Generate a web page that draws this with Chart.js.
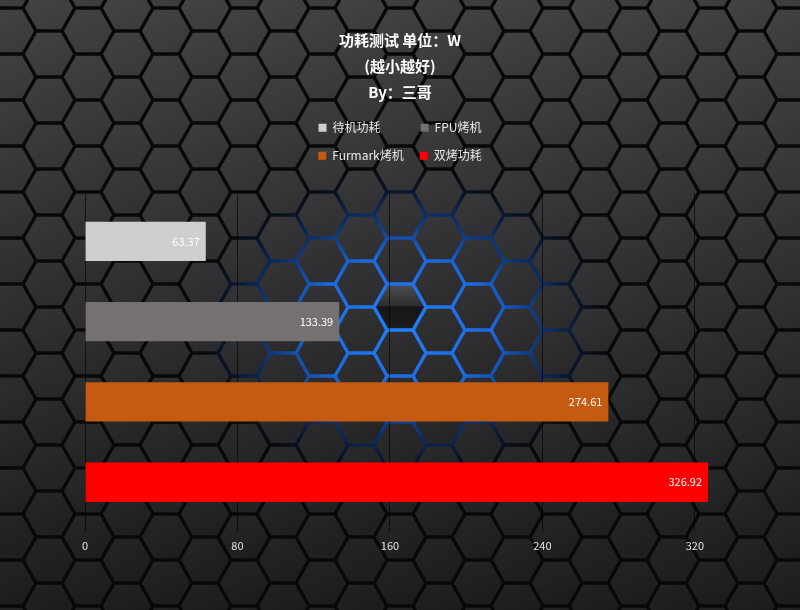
<!DOCTYPE html>
<html>
<head>
<meta charset="utf-8">
<title>功耗测试</title>
<script src="https://cdn.jsdelivr.net/npm/chart.js@4.4.1/dist/chart.umd.min.js"></script>
<style>
  html, body { margin: 0; padding: 0; background: #1e1e1f; }
  #wrap { width: 800px; height: 610px; }
</style>
</head>
<body>
<div id="wrap"><canvas id="myChart" width="800" height="610"></canvas></div>
<script>
// data
var categories = [''];
var seriesNames = ['待机功耗', 'FPU烤机', 'Furmark烤机', '双烤功耗'];
var seriesValues = [63.37, 133.39, 274.61, 326.92];
var xTickValues = [0, 80, 160, 240, 320];
var titleLines = ['功耗测试 单位：W', '(越小越好)', 'By：三哥'];

var seriesColors = ['#D0CECE', '#767171', '#C55A11', '#FF0000'];

Chart.defaults.font.family = "'Noto Sans CJK SC', 'Noto Sans', sans-serif";

function hexPath(ctx, x, y, w, h) {
    ctx.beginPath();
    ctx.moveTo(x - w, y);
    ctx.lineTo(x - w / 2, y - h);
    ctx.lineTo(x + w / 2, y - h);
    ctx.lineTo(x + w, y);
    ctx.lineTo(x + w / 2, y + h);
    ctx.lineTo(x - w / 2, y + h);
    ctx.closePath();
}

// hexagon backdrop with the blue glow in the middle
var hexBackground = {
    id: 'hexBackground',
    beforeDraw: function (chart) {
        var ctx = chart.ctx, W = chart.width, H = chart.height;
        ctx.save();
        ctx.fillStyle = '#080809';
        ctx.fillRect(0, 0, W, H);

        // blue glow behind the gaps
        ctx.save();
        ctx.translate(402, 325);
        ctx.scale(1, 0.76);
        var g = ctx.createRadialGradient(0, 0, 0, 0, 0, 205);
        g.addColorStop(0, 'rgba(35,130,255,1)');
        g.addColorStop(0.45, 'rgba(28,115,245,0.9)');
        g.addColorStop(0.75, 'rgba(20,90,210,0.4)');
        g.addColorStop(1, 'rgba(15,60,150,0)');
        ctx.fillStyle = g;
        ctx.fillRect(-400, -400, 800, 800);
        ctx.restore();

        var dx = 39, dy = 46, cx0 = 400, cy0 = 307;
        var k = (23 - 1.7) / 23;
        var w = 26 * k, h = 23 * k;
        for (var i = -12; i <= 12; i++) {
            var x = cx0 + i * dx;
            var off = (Math.abs(i) % 2 === 1) ? dy / 2 : 0;
            for (var j = -8; j <= 8; j++) {
                var y = cy0 + off + j * dy;
                if (y < -30 || y > H + 30 || x < -30 || x > W + 30) continue;
                var t = Math.min(1, Math.max(0, y / H));
                var base = Math.round(64 - 34 * t);
                var hg = ctx.createLinearGradient(x - w / 2, y - h, x + w / 3, y + h);
                if (i === 0 && j === 0) {
                    hg = ctx.createLinearGradient(x, y - h, x, y + h);
                    hg.addColorStop(0, '#4c4c4f');
                    hg.addColorStop(0.47, '#2c2c2e');
                    hg.addColorStop(0.5, '#151517');
                    hg.addColorStop(1, '#1c1c1e');
                } else {
                    hg.addColorStop(0, 'rgb(' + (base + 4) + ',' + (base + 4) + ',' + (base + 6) + ')');
                    hg.addColorStop(1, 'rgb(' + (base - 4) + ',' + (base - 4) + ',' + (base - 2) + ')');
                }
                ctx.fillStyle = hg;
                hexPath(ctx, x, y, w, h);
                ctx.fill();
            }
        }
        ctx.restore();
    }
};

// two legend rows and a title centred on the page, like the original
var LEGEND_W = 230;
var pageLayout = {
    id: 'pageLayout',
    beforeLayout: function (chart) {
        var lg = chart.legend;
        if (!lg || lg._twoRows) return;
        var upd = lg.update;
        lg.update = function (w, h, m) {
            upd.call(this, LEGEND_W, h, m);
            this.height += 21;
        };
        lg._twoRows = true;
    },
    afterLayout: function (chart) {
        var lg = chart.legend;
        if (lg) {
            lg.left = (chart.width - LEGEND_W) / 2;
            lg.right = lg.left + LEGEND_W;
        }
        var tb = chart.titleBlock;
        if (tb) {
            tb.left = 0;
            tb.right = chart.width;
            tb.width = chart.width;
        }
    }
};

// value labels inside the bar ends
var barValues = {
    id: 'barValues',
    afterDatasetsDraw: function (chart) {
        var ctx = chart.ctx;
        ctx.save();
        ctx.font = "11px 'Noto Sans CJK SC', 'Noto Sans', sans-serif";
        ctx.fillStyle = '#ffffff';
        ctx.textAlign = 'right';
        ctx.textBaseline = 'middle';
        chart.data.datasets.forEach(function (ds, i) {
            var meta = chart.getDatasetMeta(i);
            meta.data.forEach(function (bar, j) {
                ctx.fillText(ds.data[j].toFixed(2), bar.x - 6, bar.y);
            });
        });
        ctx.restore();
    }
};

var ctx = document.getElementById('myChart');
var myChart = new Chart(ctx, {
    type: 'bar',
    data: {
        labels: categories,
        datasets: seriesNames.map(function (name, i) {
            return {
                label: name,
                data: [seriesValues[i]],
                backgroundColor: seriesColors[i],
                borderWidth: 0,
                barPercentage: 0.49,
                categoryPercentage: 0.95
            };
        })
    },
    options: {
        indexAxis: 'y',
        responsive: false,
        animation: false,
        layout: {
            padding: { left: 85, right: 67, top: 0, bottom: 50 }
        },
        scales: {
            x: {
                type: 'linear',
                min: 0,
                max: 340,
                bounds: 'data',
                afterBuildTicks: function (axis) {
                    axis.ticks = xTickValues.map(function (v) { return { value: v }; });
                },
                ticks: {
                    color: '#e2e2e2',
                    font: { size: 11 },
                    padding: 8
                },
                grid: {
                    color: 'rgba(0,0,0,0.6)',
                    lineWidth: 1,
                    drawTicks: false
                },
                border: { display: false }
            },
            y: {
                display: false
            }
        },
        plugins: {
            title: {
                display: true,
                text: titleLines,
                color: '#ffffff',
                font: { size: 15, weight: 'bold', lineHeight: 1.73 },
                padding: { top: 27, bottom: 1 }
            },
            legend: {
                display: true,
                labels: {
                    color: '#e8e8e8',
                    font: { size: 12 },
                    boxWidth: 8,
                    boxHeight: 8,
                    padding: 16,
                    generateLabels: function (chart) {
                        var items = Chart.defaults.plugins.legend.labels.generateLabels(chart);
                        // first column of the legend grid is as wide as its longest name
                        items.forEach(function (it, i) {
                            if (i === 0) it.text = it.text + '\u3000\u3000';
                        });
                        return items;
                    }
                }
            },
            tooltip: { enabled: false }
        }
    },
    plugins: [hexBackground, pageLayout, barValues]
});
</script>
</body>
</html>
